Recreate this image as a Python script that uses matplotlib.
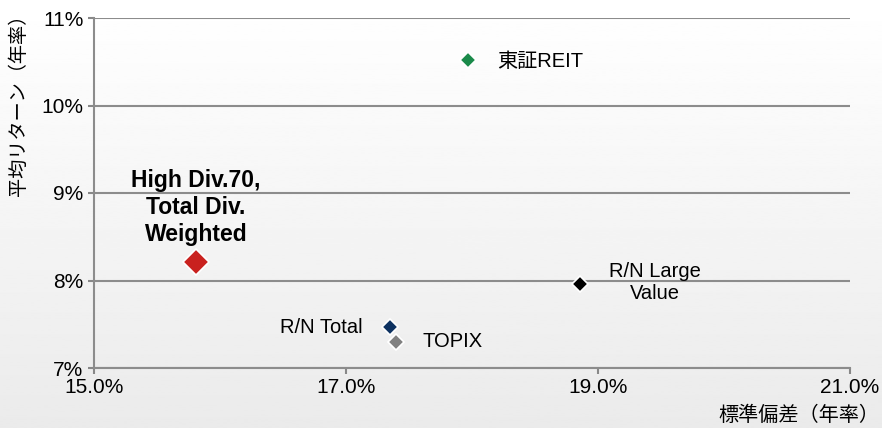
import numpy as np
import matplotlib
matplotlib.use("Agg")
import matplotlib.pyplot as plt
from matplotlib.ticker import FuncFormatter

plt.rcParams['font.family'] = ['Liberation Sans', 'Noto Sans CJK JP', 'DejaVu Sans']

# Data: standard deviation (x, %) vs average return (y, %), annualised
names = ["東証REIT", "High Div.70,\nTotal Div.\nWeighted", "R/N Large\nValue", "R/N Total", "TOPIX"]
risk = [17.97, 15.81, 18.86, 17.35, 17.40]
ret = [10.52, 8.21, 7.96, 7.47, 7.30]

x_ticks = [15.0, 17.0, 19.0, 21.0]
y_ticks = [7, 8, 9, 10, 11]

# styling per point
colors = ["#1a8a4a", "#c9211e", "#000000", "#0d3160", "#808080"]
sizes = [8, 13, 8, 8, 8]
label_style = [
    dict(xytext=(21, -1), ha="left", va="center", weight="normal", size=14.5),
    dict(xytext=(0, 39), ha="center", va="center", weight="bold", size=16.5),
    dict(xytext=(54, 1), ha="center", va="center", weight="normal", size=14.5),
    dict(xytext=(-20, -0.5), ha="right", va="center", weight="normal", size=14.5),
    dict(xytext=(19, 0), ha="left", va="center", weight="normal", size=14.5),
]

fig = plt.figure(figsize=(8.82, 4.28), dpi=100)

# light vertical gradient background
bg = fig.add_axes([0, 0, 1, 1], zorder=-10)
grad = np.linspace(1.0, 0.92, 256).reshape(-1, 1)
bg.imshow(grad, aspect="auto", cmap="gray", vmin=0, vmax=1, extent=[0, 1, 0, 1])
bg.axis("off")

ax = fig.add_axes([94 / 882, 60 / 428, 756 / 882, 350 / 428])
ax.patch.set_alpha(0)

for i in range(len(names)):
    ax.plot(risk[i], ret[i], marker="D", linestyle="none", color=colors[i],
            markersize=sizes[i], markeredgecolor="white", markeredgewidth=1.2, zorder=5)
    st = label_style[i]
    ax.annotate(names[i], (risk[i], ret[i]), xytext=st["xytext"], textcoords="offset points",
                ha=st["ha"], va=st["va"], fontsize=st["size"],
                fontweight=st["weight"], linespacing=1.22, color="black")

ax.set_xlim(15, 21)
ax.set_ylim(7, 11)
ax.set_xticks(x_ticks)
ax.set_yticks(y_ticks)
ax.xaxis.set_major_formatter(FuncFormatter(lambda v, p: f"{v:.1f}%"))
ax.yaxis.set_major_formatter(FuncFormatter(lambda v, p: f"{v:.0f}%"))
ax.tick_params(labelsize=15, colors="#888888", labelcolor="black", length=4, width=1.5)
ax.grid(axis="y", color="#8c8c8c", linewidth=1.5)
ax.set_axisbelow(True)
for s in ["top", "right"]:
    ax.spines[s].set_visible(False)
for s in ["left", "bottom"]:
    ax.spines[s].set_color("#8c8c8c")
    ax.spines[s].set_linewidth(1.5)

fig.text(0.021, 0.765, "平均リターン（年率）", rotation=90, ha="center", va="center",
         fontsize=13.8, family=['Noto Sans CJK JP'])
fig.text(0.997, 0.03, "標準偏差（年率）", ha="right", va="center",
         fontsize=14.5, family=['Noto Sans CJK JP'])

fig.savefig("out.png", dpi=100)
